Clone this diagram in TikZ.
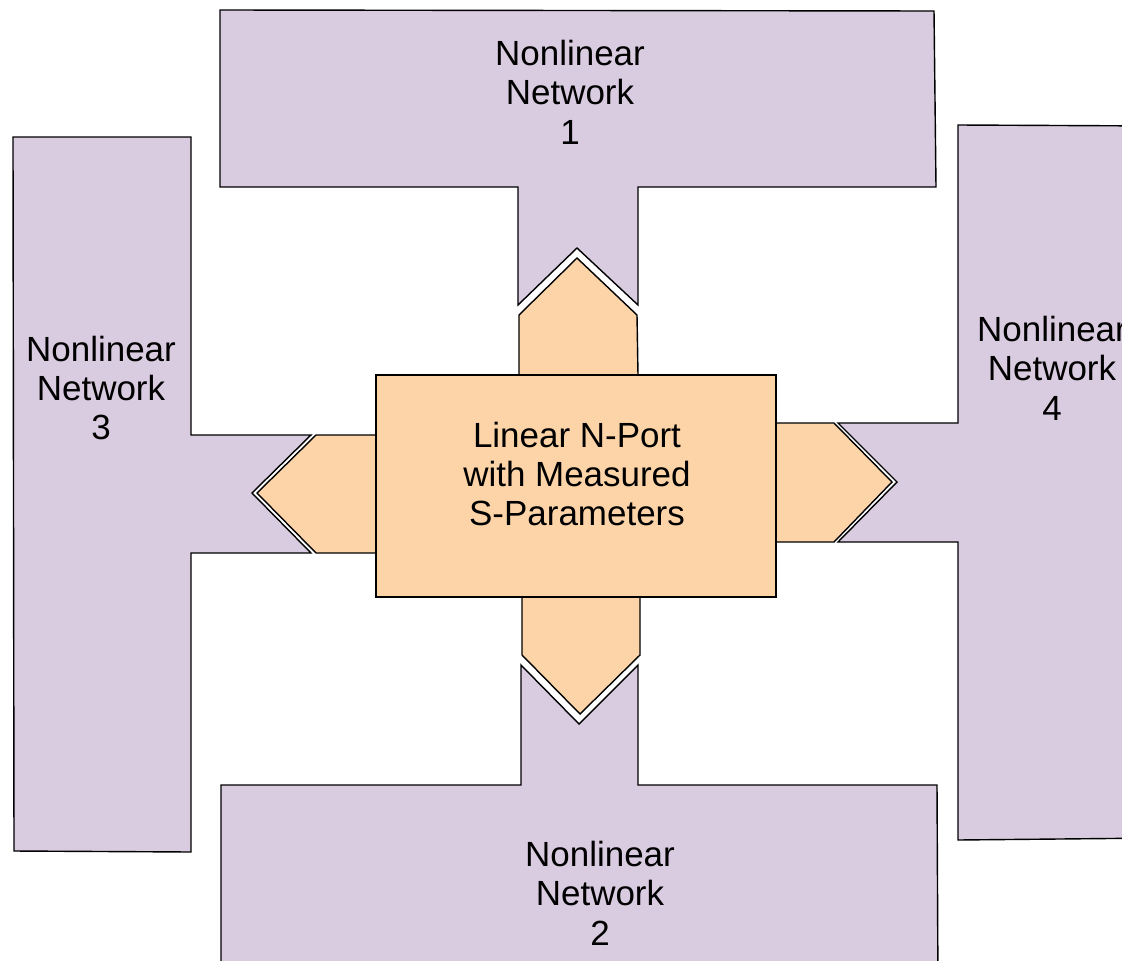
\documentclass[tikz,border=0pt]{standalone}
\usepackage{fontspec}
\setmainfont{Liberation Sans}
\usepackage{xcolor}
\usetikzlibrary{positioning}

\definecolor{netpurple}{HTML}{D9CBE0}
\definecolor{portorange}{HTML}{FCD4A8}

\begin{document}
\begin{tikzpicture}[
        x=0.02cm, y=-0.02cm,
        network/.style={draw=black, fill=netpurple, line width=0.8pt, line join=miter},
        portarrow/.style={draw=black, fill=portorange, line width=0.8pt, line join=miter},
        nport/.style={rectangle, draw=black, fill=portorange, line width=0.8pt, minimum width=8cm, minimum height=4.44cm, inner sep=0pt},
        caption/.style={align=center, font=\fontsize{19.9}{22.4}\selectfont}
    ]
    \useasboundingbox (0,0) rectangle (1122,960);
    \clip (0,0) rectangle (1122,960);

    % nonlinear networks
    \draw[network] (220,10) -- (934,11) -- (936,187) -- (638,187) -- (638,305) -- (577,248) -- (518,305) -- (518,187) -- (220,187) -- cycle;
    \draw[network] (221,785) -- (521,785) -- (521,665) -- (579,724) -- (638,665) -- (638,785) -- (937,785) -- (938,990) -- (221,990) -- cycle;
    \draw[network] (13,137) -- (191,137) -- (191,435) -- (311,435) -- (252,493) -- (311,553) -- (191,553) -- (191,852) -- (14,851) -- cycle;
    \draw[network] (958,125) -- (1160,126) -- (1160,838) -- (958,840) -- (958,542) -- (838,542) -- (897,482) -- (838,423) -- (958,423) -- cycle;

    % port arrows
    \draw[portarrow] (519,375) -- (519,315) -- (577,258) -- (637,315) -- (638,375) -- cycle;
    \draw[portarrow] (522,597) -- (522,655) -- (580,714) -- (640,655) -- (640,597) -- cycle;
    \draw[portarrow] (376,435) -- (316,435) -- (257,493) -- (316,553) -- (376,553) -- cycle;
    \draw[portarrow] (774,423) -- (834,423) -- (892,482) -- (834,542) -- (774,542) -- cycle;

    % linear n-port
    \node[nport] (nport) at (576,486) {};
    \node[caption] (nporttext) at (577,474) {Linear N-Port\\with Measured\\S-Parameters};

    \node[caption] (net1) at (570,92) {Nonlinear\\Network\\1};
    \node[caption] (net2) at (600,893) {Nonlinear\\Network\\2};
    \node[caption] (net3) at (101,388) {Nonlinear\\Network\\3};
    \node[caption] (net4) at (1052,368) {Nonlinear\\Network\\4};
\end{tikzpicture}
\end{document}
